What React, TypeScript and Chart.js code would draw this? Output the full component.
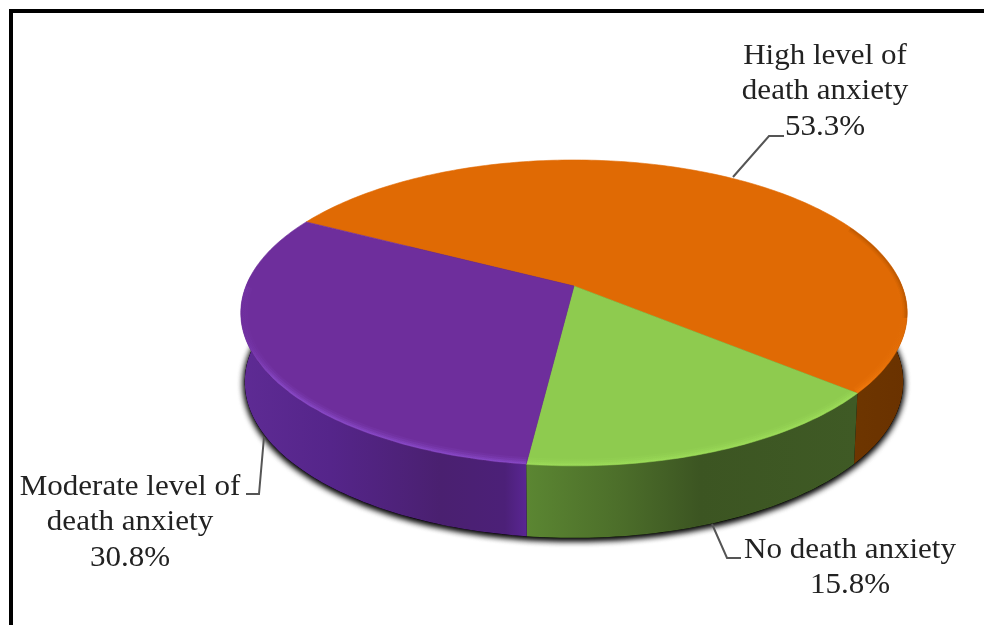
import { useEffect, useRef } from "react";
import { Chart, registerables } from "chart.js";

Chart.register(...registerables);

const categories = ["High level of death anxiety", "No death anxiety", "Moderate level of death anxiety"];
const values = [53.3, 15.8, 30.8];
const labelLines = [["High level of", "death anxiety"], ["No death anxiety"], ["Moderate level of", "death anxiety"]];
const faceColors = ["#E06A04", "#8ECB4F", "#6E2E9C"];
const rimColors = ["#FF8412", "#A6E860", "#9A5CE6"];

// Horizontal shading of each slice's outer wall: [x, colour]
const wallShades: [number, string][][] = [
  [[850, "#6E3600"], [905, "#6A3200"]],
  [[527, "#5B8632"], [620, "#4C6E2A"], [700, "#3C5522"], [855, "#3F5A25"]],
  [[241, "#5E2B94"], [330, "#55258A"], [440, "#4A2070"], [505, "#4C2078"], [527, "#5A2694"]],
];

const labelAnchors = [
  { x: 825, y: 63.5 },
  { x: 850, y: 557.5 },
  { x: 130, y: 494.5 },
];
const leaders = [
  [[733, 177], [769, 136], [784, 136]],
  [[712, 524], [727, 558], [741, 558]],
  [[264, 437], [259, 494], [246, 494]],
];

// Perspective of the disc: unit-circle (u, v) to page pixels.
const CX = 574;
const TOP_Y = 286;
const BOTTOM_Y = 354.4;
const A = 328;
const B = 148.2;
const C = -0.176;
const DEG = Math.PI / 180;

type Pt = [number, number];

function project(theta: number, base: boolean): Pt {
  const u = Math.cos(theta * DEG);
  const v = Math.sin(theta * DEG);
  const w = 1 + C * v;
  if (base) return [CX + (0.988 * A * u) / w, BOTTOM_Y + (1.02 * B * v) / w];
  return [CX + (A * u) / w, TOP_Y + (B * v) / w];
}

function rim(from: number, to: number, base = false): Pt[] {
  const pts: Pt[] = [];
  const n = Math.max(2, Math.ceil(Math.abs(to - from)));
  for (let i = 0; i <= n; i++) pts.push(project(from + ((to - from) * i) / n, base));
  return pts;
}

function trace(ctx: CanvasRenderingContext2D, pts: Pt[]) {
  pts.forEach(([x, y], i) => (i ? ctx.lineTo(x, y) : ctx.moveTo(x, y)));
}

const discPlugin = {
  id: "perspectiveDisc",
  beforeDatasetDraw(chart: Chart) {
    const ctx = chart.ctx;
    const arcs = chart.getDatasetMeta(0).data.map((el: any) => {
      const p = el.getProps(["startAngle", "endAngle"], true);
      return { s: p.startAngle / DEG, e: p.endAngle / DEG };
    });

    // Soft contact shadow under the base ring, laid down twice for density
    ctx.save();
    ctx.shadowColor = "#000";
    ctx.shadowBlur = 7;
    ctx.shadowOffsetX = 0;
    ctx.shadowOffsetY = 2;
    ctx.fillStyle = "#000";
    for (let pass = 0; pass < 2; pass++) {
      ctx.beginPath();
      trace(ctx, rim(0, 360, true));
      ctx.closePath();
      ctx.fill();
    }
    ctx.restore();

    // Outer walls
    arcs.forEach(({ s, e }, i) => {
      for (let k = -1; k <= 1; k++) {
        const lo = Math.max(s, -4 + 360 * k);
        const hi = Math.min(e, 184 + 360 * k);
        if (hi <= lo) continue;
        const shades = wallShades[i];
        const x0 = shades[0][0];
        const x1 = shades[shades.length - 1][0];
        const g = ctx.createLinearGradient(x0, 0, x1, 0);
        shades.forEach(([x, c]) => g.addColorStop((x - x0) / (x1 - x0), c));
        ctx.fillStyle = g;
        ctx.beginPath();
        trace(ctx, [...rim(lo, hi), ...rim(hi, lo, true)]);
        ctx.closePath();
        ctx.fill();
      }
    });

    // Top faces with a lit bevel along the near edge
    arcs.forEach(({ s, e }, i) => {
      const apex: Pt = [CX, TOP_Y];
      ctx.save();
      ctx.beginPath();
      trace(ctx, [apex, ...rim(s, e)]);
      ctx.closePath();
      ctx.fillStyle = faceColors[i];
      ctx.fill();
      ctx.strokeStyle = faceColors[i];
      ctx.lineWidth = 0.6;
      ctx.stroke();
      ctx.clip();
      const near = ctx.createLinearGradient(241, 0, 907, 0);
      near.addColorStop(0, rimColors[i] + "00");
      near.addColorStop(0.05, rimColors[i] + "FF");
      near.addColorStop(0.93, rimColors[i] + "FF");
      near.addColorStop(1, rimColors[i] + "00");
      ctx.strokeStyle = near;
      for (const [w, alpha] of [[14, 0.08], [10, 0.14], [6, 0.2], [3, 0.26]]) {
        ctx.globalAlpha = alpha;
        ctx.lineWidth = w;
        for (let k = -1; k <= 1; k++) {
          const lo = Math.max(s, 360 * k);
          const hi = Math.min(e, 180 + 360 * k);
          if (hi <= lo) continue;
          ctx.beginPath();
          trace(ctx, rim(lo, hi));
          ctx.stroke();
        }
      }
      // The far right edge falls into shade
      ctx.strokeStyle = "#6B3400";
      for (const [w, alpha] of [[9, 0.07], [6, 0.09], [3, 0.14]]) {
        ctx.globalAlpha = alpha;
        ctx.lineWidth = w;
        for (let k = -1; k <= 1; k++) {
          const lo = Math.max(s, -25 + 360 * k);
          const hi = Math.min(e, 12 + 360 * k);
          if (hi <= lo) continue;
          ctx.beginPath();
          trace(ctx, rim(lo, hi));
          ctx.stroke();
        }
      }
      ctx.restore();
    });

    return false;
  },
  afterDraw(chart: Chart) {
    const ctx = chart.ctx;
    ctx.save();
    ctx.strokeStyle = "#555";
    ctx.lineWidth = 2;
    leaders.forEach((pts) => {
      ctx.beginPath();
      trace(ctx, pts as Pt[]);
      ctx.stroke();
    });
    ctx.fillStyle = "#222";
    ctx.font = '29px "Liberation Serif", serif';
    ctx.textAlign = "center";
    ctx.textBaseline = "alphabetic";
    labelLines.forEach((lines, i) => {
      [...lines, `${values[i]}%`].forEach((line, j) => {
        ctx.save();
        ctx.translate(labelAnchors[i].x, labelAnchors[i].y + j * 35.7);
        ctx.scale(1.07, 1);
        ctx.fillText(line, 0, 0);
        ctx.restore();
      });
    });
    ctx.restore();
  },
};

export default function App() {
  const ref = useRef<HTMLCanvasElement>(null);
  useEffect(() => {
    const chart = new Chart(ref.current!, {
      type: "pie",
      data: {
        labels: categories,
        datasets: [{ data: values, backgroundColor: faceColors, borderWidth: 0 }],
      },
      options: {
        responsive: false,
        animation: false,
        rotation: 297.9,
        plugins: { legend: { display: false }, tooltip: { enabled: false } },
      },
      plugins: [discPlugin],
    });
    return () => chart.destroy();
  }, []);
  return (
    <div style={{ position: "fixed", inset: 0, background: "#fff", overflow: "hidden" }}>
      <canvas ref={ref} width={984} height={625} style={{ position: "absolute", left: 0, top: 0 }} />
      <div
        style={{
          position: "absolute",
          left: 9,
          top: 9,
          right: 0,
          bottom: 0,
          borderLeft: "4px solid #000",
          borderTop: "4px solid #000",
          pointerEvents: "none",
        }}
      />
    </div>
  );
}
